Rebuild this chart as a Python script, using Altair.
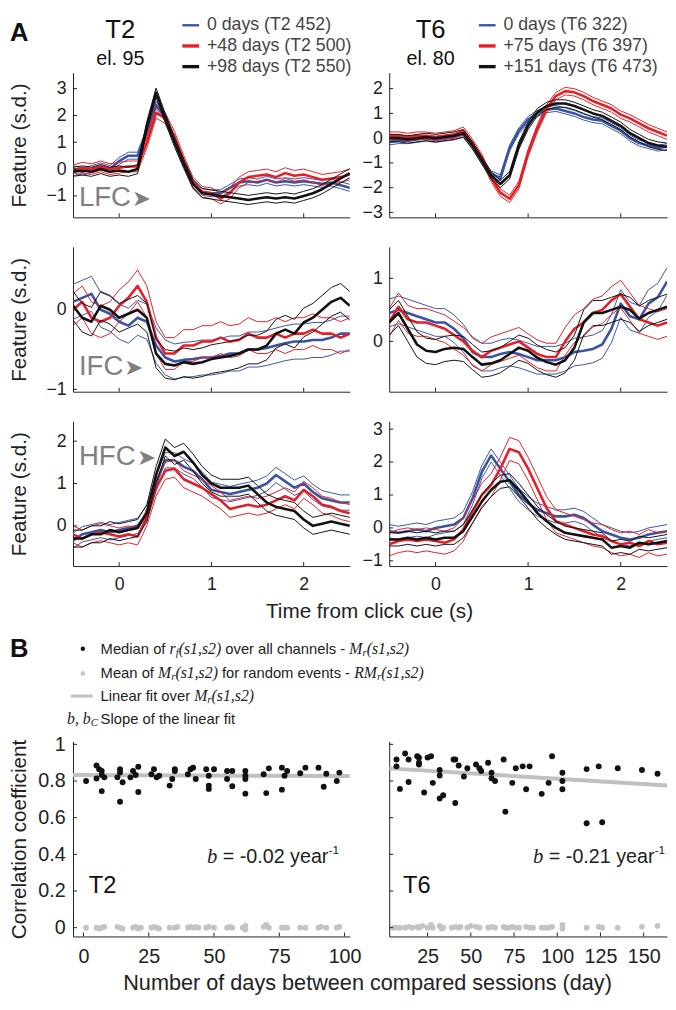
import altair as alt
import pandas as pd

SANS = "Liberation Sans, Arial, Helvetica, DejaVu Sans, sans-serif"
SERIF = "Liberation Serif, Times New Roman, DejaVu Serif, serif"
BLUE, RED, BLACK = "#3a54a4", "#e51f27", "#111111"
GRAY_TXT = "#808080"
DOT_GRAY = "#c4c4c4"

# ---------------- Panel A data ----------------
T = [-0.5, -0.4, -0.3, -0.2, -0.1, 0.0, 0.1, 0.2, 0.3, 0.4, 0.5, 0.6, 0.7, 0.8, 0.9, 1.0,
     1.1, 1.2, 1.3, 1.4, 1.5, 1.6, 1.7, 1.8, 1.9, 2.0, 2.1, 2.2, 2.3, 2.4, 2.5]

T2_LABELS = ["0 days (T2 452)", "+48 days (T2 500)", "+98 days (T2 550)"]
T6_LABELS = ["0 days (T6 322)", "+75 days (T6 397)", "+151 days (T6 473)"]
SESSION_COLORS = [BLUE, RED, BLACK]

# LFC
T2_LFC_BLUE = [0.0, -0.1, 0.0, 0.1, 0.0, 0.3, 0.5, 0.5, 1.4, 2.4, 1.9, 1.1, 0.2, -0.55, -0.85, -0.9,
               -0.9, -0.7, -0.5, -0.45, -0.5, -0.4, -0.5, -0.45, -0.5, -0.45, -0.5, -0.55, -0.5, -0.6, -0.7]
T2_LFC_RED = [-0.05, 0.05, 0.0, 0.1, 0.0, 0.05, 0.1, 0.1, 1.0, 2.1, 1.9, 1.2, 0.3, -0.5, -0.85, -0.9,
              -1.1, -0.9, -0.5, -0.3, -0.25, -0.2, -0.3, -0.15, -0.25, -0.2, -0.3, -0.4, -0.35, -0.3, -0.2]
T2_LFC_BLACK = [-0.1, -0.05, -0.1, 0.0, -0.1, -0.05, -0.1, 0.0, 1.6, 2.85, 1.9, 1.0, 0.2, -0.55, -0.9, -0.95,
                -1.0, -1.05, -1.1, -1.15, -1.1, -1.05, -1.1, -1.05, -1.1, -1.0, -0.9, -0.75, -0.55, -0.35, -0.15]
T2_LFC_HW = [0.13, 0.2, 0.17]

T6_LFC_BLUE = [-0.15, -0.1, -0.1, -0.05, 0.0, -0.05, 0.0, 0.05, 0.15, -0.3, -0.9, -1.45, -1.6, -0.4, 0.3, 0.75,
               1.0, 1.15, 1.2, 1.1, 1.0, 0.85, 0.75, 0.7, 0.5, 0.3, 0.0, -0.2, -0.3, -0.4, -0.35]
T6_LFC_RED = [0.1, 0.1, 0.05, 0.1, 0.1, 0.05, 0.1, 0.15, 0.3, -0.2, -0.8, -1.6, -2.2, -2.45, -1.9, -0.6,
              0.4, 1.2, 1.7, 1.9, 1.85, 1.7, 1.5, 1.35, 1.2, 0.95, 0.8, 0.6, 0.4, 0.25, 0.1]
T6_LFC_BLACK = [0.0, 0.0, -0.05, 0.0, 0.05, 0.0, 0.05, 0.1, 0.2, -0.3, -0.9, -1.5, -1.85, -1.5, -0.3, 0.5,
                1.05, 1.3, 1.4, 1.4, 1.3, 1.15, 1.0, 0.9, 0.7, 0.5, 0.2, 0.0, -0.2, -0.3, -0.35]
T6_LFC_HW = [0.12, 0.15, 0.15]

# IFC
T2_IFC_BLUE = [0.1, 0.15, 0.2, 0.0, -0.05, -0.15, -0.2, -0.1, -0.15, -0.45, -0.6, -0.65, -0.63, -0.62, -0.6, -0.6,
               -0.58, -0.55, -0.55, -0.5, -0.5, -0.48, -0.45, -0.42, -0.4, -0.4, -0.38, -0.38, -0.35, -0.3, -0.3]
T2_IFC_RED = [0.0, 0.1, -0.1, -0.15, -0.1, 0.05, 0.15, 0.3, 0.1, -0.35, -0.55, -0.55, -0.45, -0.45, -0.4, -0.4,
              -0.35, -0.4, -0.38, -0.3, -0.35, -0.35, -0.3, -0.35, -0.3, -0.3, -0.25, -0.3, -0.3, -0.35, -0.3]
T2_IFC_BLACK = [0.05, -0.1, -0.15, 0.05, 0.0, -0.1, -0.05, 0.0, -0.1, -0.55, -0.68, -0.7, -0.66, -0.68, -0.66, -0.62,
                -0.6, -0.58, -0.55, -0.5, -0.5, -0.45, -0.3, -0.25, -0.3, -0.16, -0.1, 0.0, 0.1, 0.15, 0.05]
T2_IFC_HW = [0.22, 0.2, 0.18]

T6_IFC_BLUE = [0.45, 0.5, 0.45, 0.4, 0.35, 0.3, 0.3, 0.2, 0.05, -0.17, -0.25, -0.25, -0.2, -0.17, -0.2, -0.25,
               -0.3, -0.3, -0.3, -0.25, -0.17, -0.15, -0.12, -0.05, 0.2, 0.6, 0.4, 0.35, 0.6, 0.7, 0.95]
T6_IFC_RED = [0.3, 0.55, 0.35, 0.3, 0.3, 0.25, 0.2, 0.1, 0.0, -0.15, -0.25, -0.15, -0.1, -0.05, 0.0, -0.1,
              -0.2, -0.25, -0.25, 0.0, 0.2, 0.3, 0.45, 0.5, 0.65, 0.75, 0.55, 0.35, 0.3, 0.25, 0.3]
T6_IFC_BLACK = [0.3, 0.45, 0.2, -0.05, -0.15, -0.17, -0.12, -0.1, -0.12, -0.25, -0.37, -0.35, -0.3, -0.2, -0.1, -0.15,
                -0.26, -0.33, -0.37, -0.3, -0.1, 0.3, 0.45, 0.45, 0.5, 0.55, 0.5, 0.36, 0.45, 0.5, 0.55]
T6_IFC_HW = [0.22, 0.22, 0.2]

# HFC
T2_HFC_BLUE = [-0.35, -0.2, -0.15, -0.1, -0.15, -0.1, -0.05, 0.0, 0.3, 1.0, 1.55, 1.55, 1.4, 1.3, 1.1, 0.85,
               0.8, 0.75, 0.8, 0.85, 0.9, 1.0, 1.2, 1.05, 0.9, 1.0, 0.8, 0.65, 0.6, 0.55, 0.55]
T2_HFC_RED = [-0.2, -0.3, -0.2, -0.15, -0.2, -0.25, -0.2, -0.25, 0.2, 0.9, 1.3, 1.35, 1.1, 1.0, 0.9, 0.75,
              0.6, 0.4, 0.45, 0.5, 0.45, 0.5, 0.6, 0.7, 0.6, 0.85, 0.7, 0.5, 0.45, 0.35, 0.3]
T2_HFC_BLACK = [-0.3, -0.3, -0.2, -0.2, -0.1, -0.15, -0.1, -0.05, 0.3, 1.2, 1.85, 1.65, 1.75, 1.5, 1.2, 1.0,
                0.9, 0.9, 0.9, 0.95, 0.75, 0.55, 0.45, 0.4, 0.35, 0.15, 0.0, 0.05, 0.1, 0.05, 0.0]
T2_HFC_HW = [0.18, 0.2, 0.2]

T6_HFC_BLUE = [-0.1, -0.15, -0.1, -0.05, -0.1, 0.0, 0.05, 0.1, 0.3, 0.9, 1.7, 2.2, 1.8, 1.4, 1.0, 0.75,
               0.55, 0.45, 0.35, 0.35, 0.4, 0.3, 0.1, -0.1, -0.2, -0.3, -0.35, -0.3, -0.2, -0.15, -0.1]
T6_HFC_RED = [-0.5, -0.4, -0.35, -0.4, -0.35, -0.4, -0.45, -0.35, -0.05, 0.5, 1.0, 1.3, 1.8, 2.4, 2.3, 1.8,
              1.2, 0.6, 0.2, 0.1, 0.0, -0.1, -0.2, -0.25, -0.4, -0.5, -0.45, -0.55, -0.4, -0.5, -0.45]
T6_HFC_BLACK = [-0.35, -0.35, -0.3, -0.35, -0.3, -0.35, -0.3, -0.3, -0.1, 0.35, 0.8, 1.15, 1.4, 1.45, 1.15, 0.8,
                0.45, 0.2, 0.0, -0.15, -0.2, -0.25, -0.3, -0.35, -0.6, -0.55, -0.6, -0.45, -0.5, -0.45, -0.4]
T6_HFC_HW = [0.2, 0.35, 0.2]

A_X_TICKS = [0, 1, 2]

# ---------------- Panel B data ----------------
B_L_BLACK = [(1, 0.80), (5, 0.885), (5, 0.814), (6, 0.864), (7, 0.855), (8, 0.82), (7, 0.833), (7, 0.745),
             (14, 0.864), (14, 0.846), (13, 0.82), (15, 0.793), (14, 0.687), (19, 0.855), (21, 0.878),
             (20, 0.833), (18, 0.82), (21, 0.74), (27, 0.864), (26, 0.837), (28, 0.82), (29, 0.829),
             (35, 0.864), (35, 0.855), (34, 0.811), (33, 0.775), (41, 0.864), (42, 0.873), (40, 0.837),
             (43, 0.811), (47, 0.864), (50, 0.864), (48, 0.829), (48, 0.775), (48, 0.757), (55, 0.855),
             (57, 0.855), (55, 0.811), (57, 0.771), (62, 0.855), (62, 0.829), (62, 0.811), (62, 0.731),
             (69, 0.837), (71, 0.869), (70, 0.734), (76, 0.873), (78, 0.855), (77, 0.829), (76, 0.753),
             (83, 0.842), (85, 0.873), (90, 0.873), (93, 0.84), (92, 0.769), (97, 0.80), (98, 0.846)]
B_L_GRAY = [(1, 0.0), (5, 0.0), (6, -0.005), (7, 0.0), (8, 0.005), (13, 0.005), (14, 0.0), (15, -0.005),
            (19, 0.0), (20, 0.005), (21, -0.005), (22, 0.0), (26, 0.0), (27, 0.005), (28, 0.0), (29, -0.005),
            (33, 0.0), (35, 0.0), (36, 0.005), (40, 0.0), (41, 0.005), (42, 0.0), (43, 0.005), (44, 0.0),
            (47, 0.0), (48, 0.005), (50, 0.0), (55, 0.0), (56, 0.005), (57, 0.0), (61, 0.0), (62, 0.01),
            (62, -0.01), (69, 0.005), (70, 0.015), (71, 0.0), (76, 0.0), (77, 0.0), (78, 0.0), (83, 0.0),
            (85, 0.0), (90, 0.0), (91, 0.005), (93, 0.0), (97, 0.0), (98, 0.005)]
B_R_BLACK = [(7, 0.917), (7, 0.88), (9, 0.757), (12, 0.95), (14, 0.917), (14, 0.795), (19, 0.935), (20, 0.927),
             (20, 0.90), (20, 0.89), (23, 0.737), (25, 0.928), (27, 0.935), (28, 0.79), (32, 0.86), (32, 0.83),
             (32, 0.705), (34, 0.722), (40, 0.917), (41, 0.917), (41, 0.68), (43, 0.885), (46, 0.825),
             (48, 0.87), (53, 0.89), (55, 0.87), (56, 0.855), (60, 0.90), (62, 0.845), (62, 0.815), (64, 0.80),
             (69, 0.917), (70, 0.633), (74, 0.79), (76, 0.87), (80, 0.88), (84, 0.88), (82, 0.755), (91, 0.73),
             (95, 0.79), (97, 0.935), (103, 0.845), (103, 0.80), (103, 0.755), (117, 0.865), (117, 0.57),
             (124, 0.88), (126, 0.575), (135, 0.87), (149, 0.86), (158, 0.84)]
B_R_GRAY = [(5, 0.0), (7, 0.0), (9, 0.0), (12, 0.0), (14, 0.005), (16, 0.0), (19, 0.005), (20, 0.0), (22, 0.01),
            (25, 0.0), (27, 0.015), (28, 0.0), (32, 0.01), (33, -0.005), (34, 0.0), (39, 0.0), (41, 0.005),
            (43, 0.0), (44, 0.005), (48, 0.0), (50, 0.01), (53, 0.005), (55, 0.0), (60, 0.0), (62, 0.005),
            (64, 0.0), (69, 0.005), (70, 0.0), (72, 0.0), (74, 0.005), (76, 0.0), (78, 0.0), (82, 0.005),
            (84, 0.0), (86, 0.0), (91, 0.0), (93, 0.0), (95, 0.0), (97, 0.005), (103, -0.005), (103, 0.015),
            (117, 0.0), (124, 0.005), (126, 0.0), (135, 0.0), (149, 0.005), (158, 0.01)]
FIT_L = [(-4, 0.833), (102, 0.827)]
FIT_R = [(2.8, 0.869), (163.5, 0.776)]
B_X_TICKS_L = [0, 25, 50, 75, 100]
B_X_TICKS_R = [25, 50, 75, 100, 125, 150]
B_Y_TICKS = [0, 0.2, 0.4, 0.6, 0.8, 1.0]

# ---------------- layout sizes ----------------
W_L, W_R, H_A, H_B, H_SP = 281, 282, 147, 198, 118
ONE = pd.DataFrame({"a": [0]})

# font metric tables (for placing mixed-font text pieces)
ARIAL = {" ": 278, "(": 333, ")": 333, ",": 278, "-": 333, ".": 278, "=": 584, "+": 584}
for _c in "0123456789":
    ARIAL[_c] = 556
for _c, _w in zip("ABCDEFGHIJKLMNOPQRSTUVWXYZ",
                  [667, 667, 722, 722, 667, 611, 778, 722, 278, 500, 667, 556, 833, 722, 778, 667, 778, 722,
                   667, 611, 722, 667, 944, 667, 667, 611]):
    ARIAL[_c] = _w
for _c, _w in zip("abcdefghijklmnopqrstuvwxyz",
                  [556, 556, 500, 556, 556, 278, 556, 556, 222, 222, 500, 222, 833, 556, 556, 556, 556, 333,
                   500, 278, 556, 500, 722, 500, 500, 500]):
    ARIAL[_c] = _w
TIMES_I = {" ": 250, "(": 333, ")": 333, ",": 250, "1": 500, "2": 500, "s": 389, "r": 389, "f": 278,
           "M": 833, "R": 611, "b": 500, "C": 667}

KINDS = {
    "sans": (15, ARIAL, SANS, "normal", 0),
    "ital": (16, TIMES_I, SERIF, "italic", 0),
    "sub": (11, TIMES_I, SERIF, "italic", 4),
    "sans20": (20, ARIAL, SANS, "normal", 0),
    "ital20": (21, TIMES_I, SERIF, "italic", 0),
    "sup": (12, ARIAL, SANS, "normal", -7),
}


def width(s, kind):
    size, table = KINDS[kind][0], KINDS[kind][1]
    return sum(table.get(c, 556) for c in s) * size / 1000.0


def txt(s, x, y, size=15, font=SANS, style="normal", weight="normal", color="#222",
        align="left", baseline="middle"):
    return alt.Chart(ONE).mark_text(text=s, fontSize=size, font=font, fontStyle=style,
                                    fontWeight=weight, color=color, align=align,
                                    baseline=baseline).encode(x=alt.value(x), y=alt.value(y))


def rich(parts, x0, y, color="#222", right=False):
    if right:
        x0 = x0 - sum(width(s, k) for s, k in parts)
    out, x = [], x0
    for s, k in parts:
        size, table, font, style, dy = KINDS[k]
        lead = len(s) - len(s.lstrip(" "))
        body = s.strip(" ")
        if body:
            out.append(txt(body, x + width(s[:lead], k), y + dy, size=size, font=font, style=style,
                           color=color))
        x += width(s, k)
    return out


def legend_a(labels, x0):
    """Legend of a panel-A column: short coloured strokes followed by the session names."""
    out = []
    for lab, col, sw, yc in zip(labels, SESSION_COLORS, [2.4, 3.4, 3.4], [-48, -27, -6]):
        out.append(alt.Chart(ONE).mark_rule(color=col, strokeWidth=sw).encode(
            x=alt.value(x0), x2=alt.value(x0 + 17), y=alt.value(yc)))
        out.append(txt(lab, x0 + 25, yc, size=18, color="#444"))
    return out


def series_frames(mean, hw):
    m = pd.DataFrame({"t": T, "v": mean})
    hi = pd.DataFrame({"t": T, "v": [v + hw for v in mean], "kind": "hi"})
    lo = pd.DataFrame({"t": T, "v": [v - hw for v in mean], "kind": "lo"})
    return m, pd.concat([hi, lo], ignore_index=True)


def a_panel(series, hws, ydom, yticks, w, xlabels, ytitle, notes=()):
    xenc = alt.X("t:Q", scale=alt.Scale(domain=[-0.5, 2.5], nice=False, zero=False),
                 axis=alt.Axis(values=A_X_TICKS, labels=xlabels, title=None, ticks=False, grid=False,
                               labelFontSize=18, labelPadding=10, labelFlush=False))
    if ytitle:
        yaxis = alt.Axis(values=yticks, ticks=False, grid=False, labelFontSize=18, labelPadding=7,
                         labelFlush=False, title="Feature (s.d.)", titleFontSize=21,
                         titleFontWeight="normal", titleX=-54, titleY=H_A / 2, titleAlign="center",
                         titleBaseline="middle")
    else:
        yaxis = alt.Axis(values=yticks, ticks=False, grid=False, labelFontSize=18, labelPadding=7,
                         labelFlush=False, title=None)
    yenc = alt.Y("v:Q", scale=alt.Scale(domain=ydom, nice=False, zero=False), axis=yaxis)
    layers = []
    for col, mean, hw in zip(SESSION_COLORS, series, hws):
        m, b = series_frames(mean, hw)
        layers.append(alt.Chart(b).mark_line(interpolate="linear", clip=True, strokeWidth=1,
                                             strokeJoin="round", color=col).encode(
            x=xenc, y=yenc, detail="kind:N"))
        layers.append(alt.Chart(m).mark_line(interpolate="linear", clip=True, strokeWidth=2.6,
                                             strokeJoin="round", color=col).encode(x=xenc, y=yenc))
    layers.append(alt.Chart(pd.DataFrame({"t": A_X_TICKS})).mark_rule(color="#222", strokeWidth=1).encode(
        x=xenc, y=alt.value(H_A), y2=alt.value(H_A - 4)))
    layers.append(alt.Chart(pd.DataFrame({"v": yticks})).mark_rule(color="#222", strokeWidth=1).encode(
        y=yenc, x=alt.value(0), x2=alt.value(4)))
    layers.extend(notes)
    return alt.layer(*layers).properties(width=w, height=H_A)


def b_panel(black, gray, fit, xdom, xticks, w, ylabels, notes=()):
    xenc = alt.X("d:Q", scale=alt.Scale(domain=xdom, nice=False, zero=False),
                 axis=alt.Axis(values=xticks, title=None, ticks=False, grid=False, labelFontSize=20,
                               labelPadding=10, labelFlush=False))
    if ylabels:
        yaxis = alt.Axis(values=B_Y_TICKS, format="~g", ticks=False, grid=False, labelFontSize=20,
                         labelPadding=8, labelFlush=False, title="Correlation coefficient", titleFontSize=21,
                         titleFontWeight="normal", titleX=-54, titleY=H_B / 2, titleAlign="center",
                         titleBaseline="middle")
    else:
        yaxis = alt.Axis(values=B_Y_TICKS, labels=False, ticks=False, grid=False, title=None)
    yenc = alt.Y("r:Q", scale=alt.Scale(domain=[-0.048, 1.016], nice=False, zero=False), axis=yaxis)
    layers = [
        alt.Chart(pd.DataFrame(gray, columns=["d", "r"])).mark_circle(size=34, color=DOT_GRAY, opacity=1).encode(
            x=xenc, y=yenc),
        alt.Chart(pd.DataFrame(fit, columns=["d", "r"])).mark_line(color="#c0c0c0", strokeWidth=4, clip=True).encode(
            x=xenc, y=yenc),
        alt.Chart(pd.DataFrame(black, columns=["d", "r"])).mark_circle(size=36, color="#111", opacity=1).encode(
            x=xenc, y=yenc),
        alt.Chart(pd.DataFrame({"d": xticks})).mark_rule(color="#222", strokeWidth=1).encode(
            x=xenc, y=alt.value(H_B), y2=alt.value(H_B - 4)),
        alt.Chart(pd.DataFrame({"r": B_Y_TICKS})).mark_rule(color="#222", strokeWidth=1).encode(
            y=yenc, x=alt.value(0), x2=alt.value(4)),
    ]
    layers.extend(notes)
    return alt.layer(*layers).properties(width=w, height=H_B)


ARROW = "\u27a4"

L1 = a_panel([T2_LFC_BLUE, T2_LFC_RED, T2_LFC_BLACK], T2_LFC_HW, [-1.8, 3.6], [-1, 0, 1, 2, 3],
             W_L, False, True,
             notes=[txt("A", -64, -40, size=26, weight="bold", color="#111"),
                    txt("T2", 48, -43, size=26, align="center", color="#111"),
                    txt("el. 95", 48, -14, size=20, align="center", color="#111"),
                    txt("LFC", 6, 127, size=28, color=GRAY_TXT),
                    txt(ARROW, 60, 128, size=23, color=GRAY_TXT, font="DejaVu Sans")]
             + legend_a(T2_LABELS, 111))
R1 = a_panel([T6_LFC_BLUE, T6_LFC_RED, T6_LFC_BLACK], T6_LFC_HW, [-3.2, 2.65], [-3, -2, -1, 0, 1, 2],
             W_R, False, False,
             notes=[txt("T6", 42, -43, size=26, align="center", color="#111"),
                    txt("el. 80", 42, -14, size=20, align="center", color="#111")]
             + legend_a(T6_LABELS, 91))
L2 = a_panel([T2_IFC_BLUE, T2_IFC_RED, T2_IFC_BLACK], T2_IFC_HW, [-1.03, 0.79], [-1, 0],
             W_L, False, True,
             notes=[txt("IFC", 6, 122, size=28, color=GRAY_TXT),
                    txt(ARROW, 52, 123, size=23, color=GRAY_TXT, font="DejaVu Sans")])
R2 = a_panel([T6_IFC_BLUE, T6_IFC_RED, T6_IFC_BLACK], T6_IFC_HW, [-0.8, 1.5], [0, 1],
             W_R, False, False)
L3 = a_panel([T2_HFC_BLUE, T2_HFC_RED, T2_HFC_BLACK], T2_HFC_HW, [-0.95, 2.47], [0, 1, 2],
             W_L, True, True,
             notes=[txt("HFC", 6, 36, size=28, color=GRAY_TXT),
                    txt(ARROW, 65, 37, size=23, color=GRAY_TXT, font="DejaVu Sans"),
                    txt("Time from click cue (s)", 301, 194, size=21, align="center", color="#222")])
R3 = a_panel([T6_HFC_BLUE, T6_HFC_RED, T6_HFC_BLACK], T6_HFC_HW, [-1.16, 3.24], [-1, 0, 1, 2, 3],
             W_R, True, False)


def spacer(w):
    return alt.Chart(ONE).mark_point(opacity=0).encode(x=alt.value(0), y=alt.value(0)).properties(
        width=w, height=H_SP)


b_legend = [
    txt("B", -64, -94, size=26, weight="bold", color="#111"),
    alt.Chart(ONE).mark_circle(size=20, color="#111", opacity=1).encode(x=alt.value(10), y=alt.value(-94)),
    alt.Chart(ONE).mark_circle(size=20, color=DOT_GRAY, opacity=1).encode(x=alt.value(10), y=alt.value(-69)),
    alt.Chart(ONE).mark_rule(color="#c0c0c0", strokeWidth=3).encode(
        x=alt.value(-2), x2=alt.value(20), y=alt.value(-46)),
]
b_legend += rich([("Median of ", "sans"), ("r", "ital"), ("f", "sub"), ("(s1,s2)", "ital"),
                  (" over all channels - ", "sans"), ("M", "ital"), ("r", "sub"), ("(s1,s2)", "ital")], 28, -94)
b_legend += rich([("Mean of ", "sans"), ("M", "ital"), ("r", "sub"), ("(s1,s2)", "ital"),
                  (" for random events - ", "sans"), ("RM", "ital"), ("r", "sub"), ("(s1,s2)", "ital")], 28, -69)
b_legend += rich([("Linear fit over ", "sans"), ("M", "ital"), ("r", "sub"), ("(s1,s2)", "ital")], 28, -46)
b_legend += rich([("b, b", "ital"), ("C", "sub")], -6, -23)
b_legend += rich([("Slope of the linear fit", "sans")], 28, -23)

BL = b_panel(B_L_BLACK, B_L_GRAY, FIT_L, [-4, 102], B_X_TICKS_L, W_L, True,
             notes=b_legend
             + [txt("T2", 16, 147, size=24, color="#111")]
             + rich([("b", "ital20"), (" = -0.02 year", "sans20"), ("-1", "sup")], 270, 117, right=True)
             + [txt("Number of days between compared sessions (day)", 299, 245, size=22, align="center",
                    color="#222")])
BR = b_panel(B_R_BLACK, B_R_GRAY, FIT_R, [2.8, 163.5], B_X_TICKS_R, W_R, False,
             notes=[txt("T6", 14, 147, size=24, color="#111")]
             + rich([("b", "ital20"), (" = -0.21 year", "sans20"), ("-1", "sup")], 280, 117, right=True))

chart = alt.concat(L1, R1, L2, R2, L3, R3, spacer(W_L), spacer(W_R), BL, BR, columns=2,
                   spacing={"row": 30, "column": 40}, bounds="flush").resolve_scale(
    x="independent", y="independent").properties(
    padding=0, background="white").configure_view(stroke="transparent").configure_axis(
    domainColor="#222", domainWidth=1, labelColor="#222", titleColor="#222", labelFont=SANS,
    titleFont=SANS, grid=False)

chart.save("out.html", embed_options={"renderer": "svg", "actions": False})
